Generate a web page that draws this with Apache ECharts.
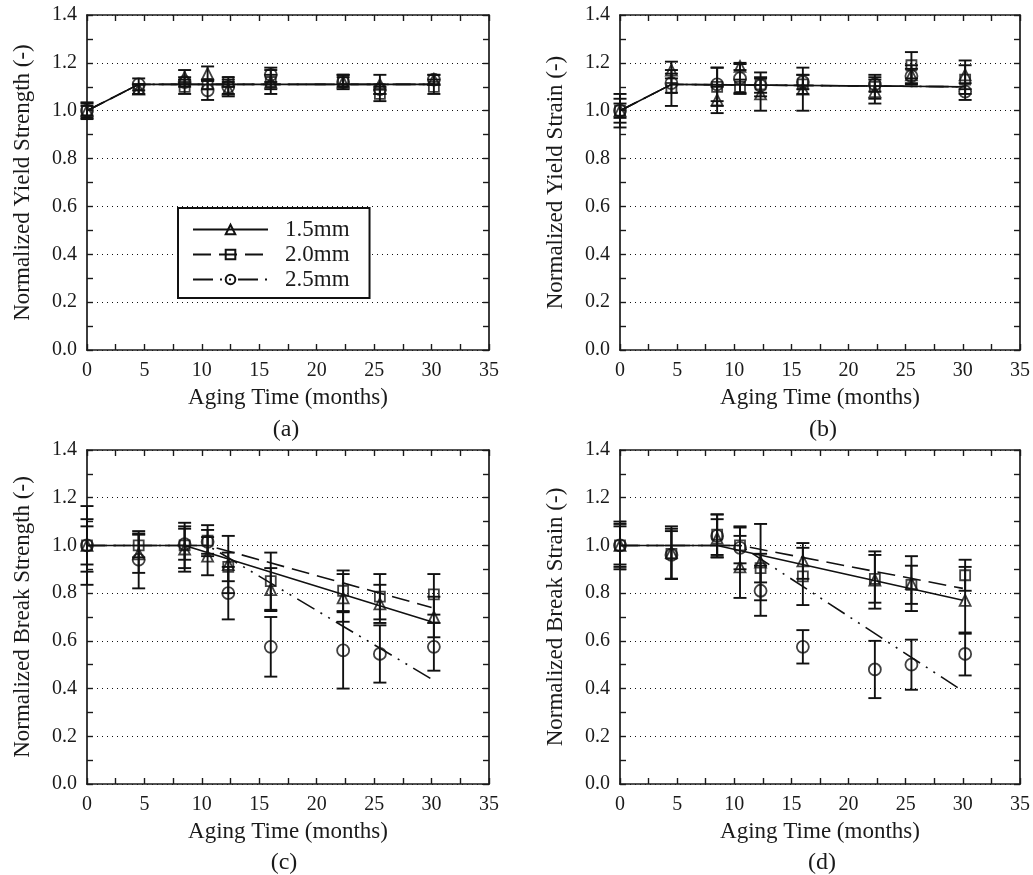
<!DOCTYPE html>
<html><head><meta charset="utf-8">
<script src="https://cdn.jsdelivr.net/npm/echarts@6/dist/echarts.min.js"></script>
<style>html,body{margin:0;padding:0;background:#fff}#c{width:1033px;height:875px}</style>
</head><body><div id="c"></div>
<script>
// ---------- data ----------
const months = [0, 4.5, 8.5, 10.5, 12.3, 16.0, 22.3, 25.5, 30.2];
const seriesNames = ['1.5mm', '2.0mm', '2.5mm'];
const panelLabels = ['(a)', '(b)', '(c)', '(d)'];
const xTitle = 'Aging Time (months)';
const yTitles = ['Normalized Yield Strength (-)', 'Normalized Yield Strain (-)',
                 'Normalized Break Strength (-)', 'Normalized Break Strain (-)'];

// (a) yield strength
const aTri    = [1.00, 1.09, 1.14, 1.155, 1.09, 1.12, 1.12, 1.11, 1.13];
const aTriErr = [0.03, 0.02, 0.03, 0.03, 0.03, 0.05, 0.03, 0.04, 0.02];
const aSq     = [1.00, 1.09, 1.10, 1.11, 1.12, 1.12, 1.13, 1.07, 1.10];
const aSqErr  = [0.02, 0.02, 0.03, 0.02, 0.02, 0.03, 0.02, 0.03, 0.03];
const aCir    = [1.00, 1.11, 1.12, 1.085, 1.10, 1.15, 1.12, 1.09, 1.13];
const aCirErr = [0.035, 0.025, 0.02, 0.04, 0.03, 0.03, 0.02, 0.02, 0.02];
const aFit15 = [[0, 1.0], [4.5, 1.11], [30.2, 1.11]];
const aFit20 = [[0, 1.0], [4.5, 1.11], [30.2, 1.11]];
const aFit25 = [[0, 1.0], [4.5, 1.11], [30.2, 1.11]];

// (b) yield strain
const bTri    = [1.00, 1.17, 1.045, 1.185, 1.07, 1.09, 1.08, 1.15, 1.15];
const bTriErr = [0.03, 0.035, 0.055, 0.015, 0.07, 0.09, 0.05, 0.04, 0.06];
const bSq     = [1.00, 1.095, 1.10, 1.10, 1.11, 1.11, 1.10, 1.19, 1.13];
const bSqErr  = [0.07, 0.075, 0.08, 0.03, 0.05, 0.04, 0.05, 0.055, 0.06];
const bCir    = [1.00, 1.115, 1.11, 1.135, 1.105, 1.12, 1.11, 1.145, 1.08];
const bCirErr = [0.05, 0.04, 0.07, 0.06, 0.03, 0.03, 0.03, 0.03, 0.035];
const bFit15 = [[0, 1.0], [4.5, 1.11], [30.2, 1.10]];
const bFit20 = [[0, 1.0], [4.5, 1.11], [30.2, 1.10]];
const bFit25 = [[0, 1.0], [4.5, 1.11], [30.2, 1.10]];

// (c) break strength
const cTri    = [1.00, 0.965, 0.985, 0.955, 0.92, 0.815, 0.78, 0.755, 0.70];
const cTriErr = [0.11, 0.08, 0.095, 0.08, 0.12, 0.09, 0.10, 0.08, 0.085];
const cSq     = [1.00, 1.00, 1.00, 1.02, 0.91, 0.85, 0.81, 0.785, 0.795];
const cSqErr  = [0.08, 0.05, 0.095, 0.065, 0.06, 0.12, 0.085, 0.095, 0.085];
const cCir    = [1.00, 0.94, 1.005, 1.015, 0.80, 0.575, 0.56, 0.545, 0.575];
const cCirErr = [0.165, 0.12, 0.065, 0.05, 0.11, 0.125, 0.16, 0.12, 0.10];
const cFit15 = [[0, 1.0], [8.5, 1.0], [30, 0.68]];
const cFit20 = [[0, 1.0], [10.5, 1.0], [30, 0.74]];
const cFit25 = [[0, 1.0], [10.5, 1.0], [30, 0.44]];

// (d) break strain
const dTri    = [1.00, 0.97, 1.03, 0.91, 0.93, 0.935, 0.855, 0.84, 0.77];
const dTriErr = [0.10, 0.11, 0.08, 0.13, 0.16, 0.075, 0.12, 0.115, 0.14];
const dSq     = [1.00, 0.965, 1.045, 1.00, 0.905, 0.87, 0.86, 0.835, 0.875];
const dSqErr  = [0.08, 0.105, 0.085, 0.075, 0.06, 0.12, 0.10, 0.08, 0.065];
const dCir    = [1.00, 0.96, 1.04, 0.99, 0.81, 0.575, 0.48, 0.50, 0.545];
const dCirErr = [0.09, 0.10, 0.09, 0.09, 0.105, 0.07, 0.12, 0.105, 0.09];
const dFit15 = [[0, 1.0], [8.5, 1.0], [30, 0.77]];
const dFit20 = [[0, 1.0], [10.5, 1.0], [30, 0.82]];
const dFit25 = [[0, 1.0], [10.5, 1.0], [30, 0.39]];

// ---------- styling / layout ----------
const FONT = 'Liberation Serif';
const INK = '#1a1a1a';
const grids = [
  {left: 87, top: 15, width: 402, height: 335},
  {left: 620, top: 15, width: 402, height: 335},
  {left: 87, top: 450, width: 402, height: 334},
  {left: 620, top: 450, width: 402, height: 334}
];
const labelPos = [[286, 418], [823, 418], [284, 851], [822, 851]];
const symbols = ['triangle', 'rect', 'circle'];
const symSizes = [11, 10, 12];
const dashes = ['solid', [18, 8], [20, 7, 2, 7, 2, 7]];

const panels = [
  {vals: [aTri, aSq, aCir], errs: [aTriErr, aSqErr, aCirErr], fits: [aFit15, aFit20, aFit25]},
  {vals: [bTri, bSq, bCir], errs: [bTriErr, bSqErr, bCirErr], fits: [bFit15, bFit20, bFit25]},
  {vals: [cTri, cSq, cCir], errs: [cTriErr, cSqErr, cCirErr], fits: [cFit15, cFit20, cFit25]},
  {vals: [dTri, dSq, dCir], errs: [dTriErr, dSqErr, dCirErr], fits: [dFit15, dFit20, dFit25]}
];

function errRender(params, api) {
  const x = api.value(0), lo = api.value(1), hi = api.value(2);
  const p1 = api.coord([x, lo]), p2 = api.coord([x, hi]);
  const w = 6.5;
  const st = {stroke: '#111', lineWidth: 1.9};
  return {type: 'group', children: [
    {type: 'line', shape: {x1: p1[0], y1: p1[1], x2: p2[0], y2: p2[1]}, style: st},
    {type: 'line', shape: {x1: p1[0] - w, y1: p1[1], x2: p1[0] + w, y2: p1[1]}, style: st},
    {type: 'line', shape: {x1: p2[0] - w, y1: p2[1], x2: p2[0] + w, y2: p2[1]}, style: st}
  ]};
}

const xAxes = [], yAxes = [], series = [], titles = [];
const tickCommon = {inside: true, length: 6, lineStyle: {color: INK, width: 1.4}};
const minorCommon = {show: true, splitNumber: 2, length: 6, lineStyle: {color: INK, width: 1.4}};
const lineCommon = {show: true, onZero: false, lineStyle: {color: INK, width: 1.7}};

panels.forEach((p, i) => {
  xAxes.push({
    gridIndex: i, type: 'value', min: 0, max: 35, interval: 5, position: 'bottom',
    axisLine: lineCommon, axisTick: tickCommon, minorTick: minorCommon,
    splitLine: {show: false},
    axisLabel: {fontFamily: FONT, fontSize: 20, color: INK, margin: 11},
    name: xTitle, nameLocation: 'middle', nameGap: 36,
    nameTextStyle: {fontFamily: FONT, fontSize: 23, color: INK}
  });
  xAxes.push({
    gridIndex: i, type: 'value', min: 0, max: 35, interval: 5, position: 'top',
    axisLine: lineCommon, axisTick: tickCommon, minorTick: minorCommon,
    splitLine: {show: false}, axisLabel: {show: false}
  });
  yAxes.push({
    gridIndex: i, type: 'value', min: 0, max: 1.4, interval: 0.2, position: 'left',
    axisLine: lineCommon, axisTick: tickCommon, minorTick: minorCommon,
    splitLine: {show: true, lineStyle: {color: '#111', width: 1.1, type: [1, 4]}},
    axisLabel: {fontFamily: FONT, fontSize: 20, color: INK, margin: 10,
                formatter: v => v.toFixed(1)},
    name: yTitles[i], nameLocation: 'middle', nameGap: 53,
    nameTextStyle: {fontFamily: FONT, fontSize: 23, color: INK}
  });
  yAxes.push({
    gridIndex: i, type: 'value', min: 0, max: 1.4, interval: 0.2, position: 'right',
    axisLine: lineCommon, axisTick: tickCommon, minorTick: minorCommon,
    splitLine: {show: false}, axisLabel: {show: false}
  });
  // fit lines (carry legend icon)
  p.fits.forEach((f, k) => {
    series.push({
      type: 'line', name: i === 0 ? seriesNames[k] : 'fit' + i + k,
      xAxisIndex: 2 * i, yAxisIndex: 2 * i, data: f,
      symbol: symbols[k], symbolSize: symSizes[k], showSymbol: false,
      lineStyle: {color: '#111', width: 1.6, type: dashes[k]},
      itemStyle: {color: 'rgba(255,255,255,0)', borderColor: '#111', borderWidth: 1.7},
      silent: true, z: 3
    });
  });
  // error bars + markers
  p.vals.forEach((v, k) => {
    const e = p.errs[k];
    series.push({
      type: 'custom', name: 'err' + i + k,
      xAxisIndex: 2 * i, yAxisIndex: 2 * i,
      data: months.map((m, j) => [m, v[j] - e[j], v[j] + e[j]]),
      encode: {x: 0, y: [1, 2]}, renderItem: errRender, silent: true, z: 2
    });
    series.push({
      type: 'scatter', name: 'pt' + i + k,
      xAxisIndex: 2 * i, yAxisIndex: 2 * i,
      data: months.map((m, j) => [m, v[j]]),
      symbol: symbols[k], symbolSize: symSizes[k],
      itemStyle: {color: 'rgba(255,255,255,0)', borderColor: '#111', borderWidth: 1.8},
      silent: true, z: 4
    });
  });
  titles.push({
    text: panelLabels[i], left: labelPos[i][0], top: labelPos[i][1], textAlign: 'center', padding: 0,
    textStyle: {fontFamily: FONT, fontSize: 24, fontWeight: 'normal', color: INK}
  });
});

const chart = echarts.init(document.getElementById('c'), null, {renderer: 'canvas'});
chart.setOption({
  animation: false,
  backgroundColor: '#fff',
  title: titles,
  grid: grids,
  xAxis: xAxes,
  yAxis: yAxes,
  legend: {
    data: seriesNames, orient: 'vertical', left: 178, top: 208,
    padding: [9, 20, 6, 14], itemWidth: 75, itemHeight: 12, itemGap: 0,
    backgroundColor: '#fff', borderColor: '#111', borderWidth: 2,
    selectedMode: false,
    textStyle: {fontFamily: FONT, fontSize: 23, color: INK, lineHeight: 25, padding: [0, 0, 0, 12]}
  },
  series: series
});
</script></body></html>
